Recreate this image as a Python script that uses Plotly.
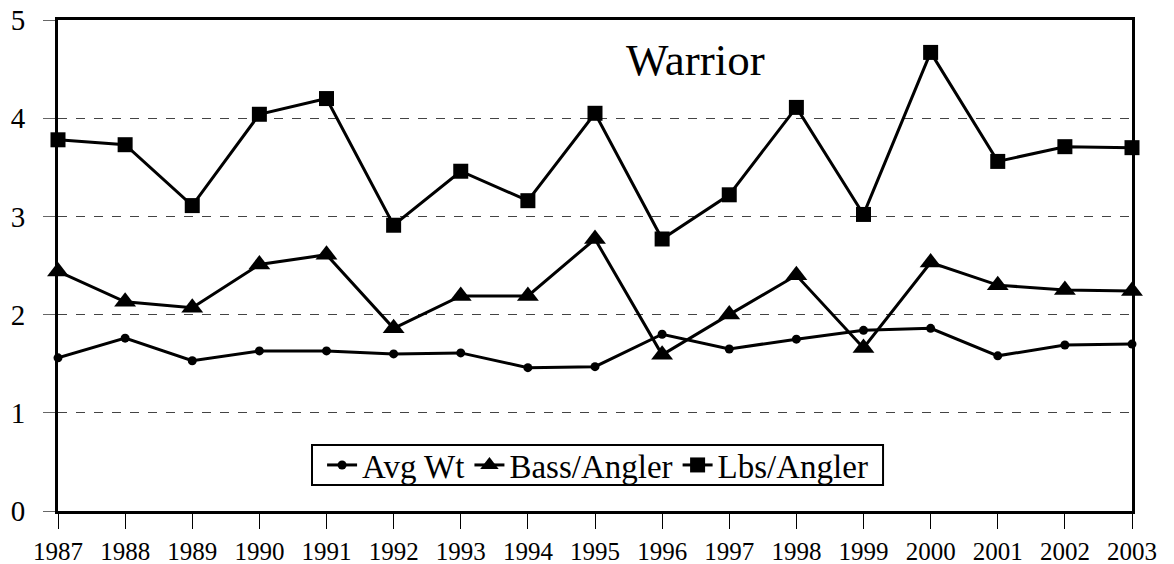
import plotly.graph_objects as go

years = list(range(1987, 2004))
avg_wt = [1.56, 1.76, 1.53, 1.63, 1.63, 1.60, 1.61, 1.46, 1.47, 1.80, 1.65, 1.75, 1.84, 1.86, 1.58, 1.69, 1.70]
bass_per_angler = [2.44, 2.13, 2.07, 2.51, 2.61, 1.86, 2.19, 2.19, 2.77, 1.59, 2.00, 2.40, 1.66, 2.53, 2.30, 2.25, 2.24]
lbs_per_angler = [3.78, 3.73, 3.11, 4.04, 4.20, 2.91, 3.46, 3.16, 4.05, 2.77, 3.22, 4.11, 3.02, 4.67, 3.56, 3.71, 3.70]
y_ticks = [0, 1, 2, 3, 4, 5]
title_text = "Warrior"

FONT = "Liberation Serif, Times New Roman, serif"

fig = go.Figure()
series = [
    ("Avg Wt", avg_wt, "circle", 9),
    ("Bass/Angler", bass_per_angler, "triangle-up", 19),
    ("Lbs/Angler", lbs_per_angler, "square", 15),
]
for name, vals, sym, size in series:
    fig.add_trace(go.Scatter(
        x=years, y=vals, name=name, mode="lines+markers",
        line=dict(color="black", width=3),
        marker=dict(symbol=sym, size=size, color="black"),
        cliponaxis=False,
    ))

fig.add_annotation(
    text=title_text, xref="paper", yref="paper", x=0.594, y=0.918,
    xanchor="center", yanchor="middle",
    showarrow=False, font=dict(family=FONT, size=45, color="black"),
)

# legend frame
fig.add_shape(
    type="rect", xref="paper", yref="paper",
    x0=0.2365, x1=0.7682, y0=0.053, y1=0.1344,
    line=dict(color="black", width=2), fillcolor="white", layer="below",
)

fig.update_layout(
    width=1174, height=564,
    margin=dict(l=58, r=42, t=20, b=53, autoexpand=False),
    paper_bgcolor="white", plot_bgcolor="white",
    font=dict(family=FONT, color="black", size=25),
    showlegend=True,
    legend=dict(
        orientation="h", x=0.5024, y=0.0937, xanchor="center", yanchor="middle",
        bgcolor="rgba(0,0,0,0)", borderwidth=0,
        font=dict(family=FONT, size=33, color="black"),
        itemwidth=30, tracegroupgap=0, itemsizing="trace",
    ),
    xaxis=dict(
        range=[1987, 2003], tickmode="array", tickvals=years,
        ticktext=[str(y) for y in years],
        showgrid=False, zeroline=False, automargin=False,
        showline=True, linecolor="black", linewidth=3, mirror=True,
        ticks="outside", ticklen=15, tickwidth=1, tickcolor="black",
        ticklabelstandoff=1, ticklabeloverflow="allow",
        tickfont=dict(family=FONT, size=25, color="black"),
    ),
    yaxis=dict(
        range=[0, 5], tickmode="array", tickvals=y_ticks,
        showgrid=True, gridcolor="#444444", griddash="dash", gridwidth=1,
        zeroline=False, automargin=False,
        showline=True, linecolor="black", linewidth=3, mirror=True,
        ticks="outside", ticklen=12, tickwidth=1, tickcolor="#666666",
        ticklabelstandoff=12, ticklabeloverflow="allow",
        tickfont=dict(family=FONT, size=29, color="black"),
    ),
)

# remove the browser's default 8px body margin so the figure fills the window
fig.write_html(
    "out.html",
    config={"displayModeBar": False},
    post_script="document.body.style.margin='0';",
)
